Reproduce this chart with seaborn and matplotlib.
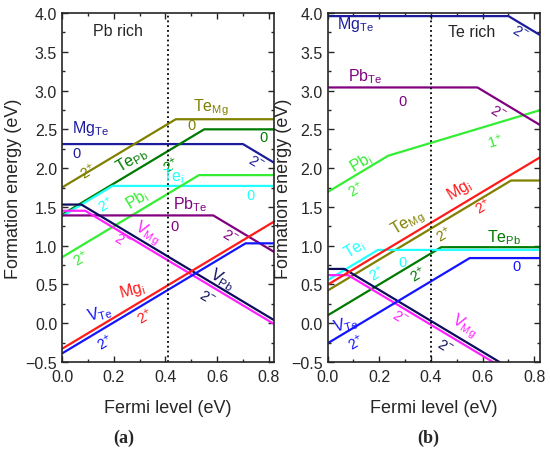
import pandas as pd
import matplotlib.pyplot as plt
import seaborn as sns
from matplotlib.ticker import MultipleLocator

# Energie di formazione: punti di rottura (livello di Fermi, energia) per ogni difetto
# Pannello (a): Pb rich
a_MgTe_x = [0.0, 0.70, 0.82]
a_MgTe_y = [2.31, 2.31, 2.07]
a_TeMg_x = [0.0, 0.44, 0.82]
a_TeMg_y = [1.75, 2.63, 2.63]
a_TePb_x = [0.0, 0.55, 0.82]
a_TePb_y = [1.40, 2.50, 2.50]
a_Tei_x = [0.0, 0.195, 0.82]
a_Tei_y = [1.38, 1.77, 1.77]
a_Pbi_x = [0.0, 0.53, 0.82]
a_Pbi_y = [0.85, 1.91, 1.91]
a_PbTe_x = [0.0, 0.585, 0.82]
a_PbTe_y = [1.39, 1.39, 0.92]
a_VPb_x = [0.0, 0.075, 0.82]
a_VPb_y = [1.53, 1.53, 0.04]
a_VMg_x = [0.0, 0.09, 0.82]
a_VMg_y = [1.45, 1.45, -0.01]
a_Mgi_x = [0.0, 0.82]
a_Mgi_y = [-0.33, 1.31]
a_VTe_x = [0.0, 0.71, 0.82]
a_VTe_y = [-0.39, 1.03, 1.03]

# Pannello (b): Te rich
b_MgTe_x = [0.0, 0.70, 0.82]
b_MgTe_y = [3.96, 3.96, 3.72]
b_PbTe_x = [0.0, 0.58, 0.82]
b_PbTe_y = [3.04, 3.04, 2.56]
b_Pbi_x = [0.0, 0.235, 0.82]
b_Pbi_y = [1.69, 2.16, 2.745]
b_Mgi_x = [0.0, 0.82]
b_Mgi_y = [0.495, 2.135]
b_TeMg_x = [0.0, 0.71, 0.82]
b_TeMg_y = [0.42, 1.84, 1.84]
b_Tei_x = [0.0, 0.195, 0.82]
b_Tei_y = [0.555, 0.945, 0.945]
b_TePb_x = [0.0, 0.44, 0.82]
b_TePb_y = [0.10, 0.98, 0.98]
b_VTe_x = [0.0, 0.55, 0.82]
b_VTe_y = [-0.26, 0.84, 0.84]
b_VPb_x = [0.0, 0.065, 0.82]
b_VPb_y = [0.70, 0.70, -0.81]
b_VMg_x = [0.0, 0.08, 0.82]
b_VMg_y = [0.62, 0.62, -0.86]

# Livello di Fermi di equilibrio (linea tratteggiata)
a_fermi = 0.41
b_fermi = 0.40

colors = {
    'MgTe': '#1c1c9c', 'TeMg': '#808000', 'TePb': '#007a00', 'Tei': '#22ffff',
    'Pbi': '#33ee33', 'PbTe': '#800080', 'VPb': '#0d0d5e', 'VMg': '#ff22ff',
    'Mgi': '#ff1a1a', 'VTe': '#1414ff',
}

order = ['MgTe', 'TeMg', 'TePb', 'Tei', 'Pbi', 'PbTe', 'VMg', 'VPb', 'Mgi', 'VTe']


def build_frame(prefix):
    rows = []
    for name in order:
        xs = globals()[f'{prefix}_{name}_x']
        ys = globals()[f'{prefix}_{name}_y']
        for x, y in zip(xs, ys):
            rows.append({'defect': name, 'fermi': x, 'energy': y})
    return pd.DataFrame(rows)


# Etichette: (testo, x, y, colore, rotazione, dimensione, allineamento)
a_labels = [
    (r'Mg$_{\rm Te}$', 0.04, 2.53, 'MgTe', 0, 11.5, 'left'),
    ('0', 0.055, 2.20, 'MgTe', 0, 10.5, 'center'),
    (r'2$^{-}$', 0.75, 2.08, 'MgTe', -31, 10.5, 'center'),
    (r'Te$_{\rm Mg}$', 0.505, 2.79, 'TeMg', 0, 11.5, 'left'),
    ('0', 0.50, 2.55, 'TeMg', 0, 10.5, 'center'),
    (r'2$^{+}$', 0.10, 1.97, 'TeMg', 31, 10.5, 'center'),
    (r'Te$_{\rm Pb}$', 0.27, 2.12, 'TePb', 31, 11.5, 'center'),
    (r'2$^{+}$', 0.42, 2.05, 'TePb', 31, 10.5, 'center'),
    ('0', 0.78, 2.40, 'TePb', 0, 10.5, 'center'),
    (r'Te$_{\rm i}$', 0.43, 1.90, 'Tei', 0, 11.5, 'center'),
    ('0', 0.73, 1.65, 'Tei', 0, 10.5, 'center'),
    (r'2$^{+}$', 0.17, 1.54, 'Tei', 31, 10.5, 'center'),
    (r'Pb$_{\rm i}$', 0.29, 1.60, 'Pbi', 31, 11.5, 'center'),
    (r'2$^{+}$', 0.075, 0.85, 'Pbi', 31, 10.5, 'center'),
    (r'Pb$_{\rm Te}$', 0.43, 1.54, 'PbTe', 0, 11.5, 'left'),
    ('0', 0.435, 1.26, 'PbTe', 0, 10.5, 'center'),
    (r'2$^{-}$', 0.65, 1.13, 'PbTe', -31, 10.5, 'center'),
    (r'V$_{\rm Mg}$', 0.33, 1.17, 'VMg', -31, 11.5, 'center'),
    (r'2$^{-}$', 0.23, 1.07, 'VMg', -31, 10.5, 'center'),
    (r'V$_{\rm Pb}$', 0.62, 0.57, 'VPb', -31, 11.5, 'center'),
    (r'2$^{-}$', 0.56, 0.34, 'VPb', -31, 10.5, 'center'),
    (r'Mg$_{\rm i}$', 0.27, 0.44, 'Mgi', 15, 11.5, 'center'),
    (r'2$^{+}$', 0.32, 0.10, 'Mgi', 31, 10.5, 'center'),
    (r'V$_{\rm Te}$', 0.145, 0.14, 'VTe', 15, 11.5, 'center'),
    (r'2$^{+}$', 0.165, -0.24, 'VTe', 31, 10.5, 'center'),
]

b_labels = [
    (r'Mg$_{\rm Te}$', 0.036, 3.86, 'MgTe', 0, 11.5, 'left'),
    (r'2$^{-}$', 0.745, 3.75, 'MgTe', -31, 10.5, 'center'),
    (r'Pb$_{\rm Te}$', 0.08, 3.19, 'PbTe', 0, 11.5, 'left'),
    ('0', 0.29, 2.87, 'PbTe', 0, 10.5, 'center'),
    (r'2$^{-}$', 0.66, 2.72, 'PbTe', -31, 10.5, 'center'),
    (r'Pb$_{\rm i}$', 0.13, 2.08, 'Pbi', 31, 11.5, 'center'),
    (r'2$^{+}$', 0.11, 1.73, 'Pbi', 31, 10.5, 'center'),
    (r'1$^{+}$', 0.65, 2.35, 'Pbi', 17, 10.5, 'center'),
    (r'Mg$_{\rm i}$', 0.51, 1.73, 'Mgi', 31, 11.5, 'center'),
    (r'2$^{+}$', 0.60, 1.52, 'Mgi', 31, 10.5, 'center'),
    (r'Te$_{\rm Mg}$', 0.31, 1.30, 'TeMg', 31, 11.5, 'center'),
    (r'2$^{+}$', 0.45, 1.15, 'TeMg', 31, 10.5, 'center'),
    (r'Te$_{\rm Pb}$', 0.616, 1.11, 'TePb', 0, 11.5, 'left'),
    (r'Te$_{\rm i}$', 0.107, 0.97, 'Tei', 31, 11.5, 'center'),
    (r'2$^{+}$', 0.19, 0.65, 'Tei', 31, 10.5, 'center'),
    ('0', 0.29, 0.79, 'Tei', 0, 10.5, 'center'),
    (r'2$^{+}$', 0.35, 0.64, 'TePb', 31, 10.5, 'center'),
    ('0', 0.73, 0.74, 'VTe', 0, 10.5, 'center'),
    (r'V$_{\rm Te}$', 0.07, -0.01, 'VTe', 15, 11.5, 'center'),
    (r'2$^{+}$', 0.11, -0.24, 'VTe', 31, 10.5, 'center'),
    (r'2$^{-}$', 0.28, 0.08, 'VMg', -31, 10.5, 'center'),
    (r'V$_{\rm Mg}$', 0.53, -0.03, 'VMg', -31, 11.5, 'center'),
    (r'2$^{-}$', 0.455, -0.29, 'VPb', -31, 10.5, 'center'),
]

sns.set_style('ticks')
plt.rcParams['font.family'] = ['Liberation Sans', 'DejaVu Sans']
plt.rcParams['mathtext.fontset'] = 'custom'
plt.rcParams['mathtext.rm'] = 'Liberation Sans'
plt.rcParams['mathtext.it'] = 'Liberation Sans:italic'

fig = plt.figure(figsize=(5.5, 4.52), dpi=100)
ax_a = fig.add_axes([62 / 550, 1 - 363 / 452, 212 / 550, 349 / 452])
ax_b = fig.add_axes([327.5 / 550, 1 - 363 / 452, 212 / 550, 349 / 452])

panels = [
    (ax_a, 'a', a_labels, a_fermi, 'Pb rich', 0.12, 3.77, -0.189, 124 / 550, '(a)'),
    (ax_b, 'b', b_labels, b_fermi, 'Te rich', 0.467, 3.76, -0.167, 428 / 550, '(b)'),
]

for ax, prefix, labels, fermi, title, tx, ty, ylx, px, tag in panels:
    df = build_frame(prefix)
    sns.lineplot(data=df, x='fermi', y='energy', hue='defect', palette=colors,
                 estimator=None, sort=False, linewidth=1.6, legend=False, ax=ax)
    ax.axvline(fermi, color='black', linestyle=':', linewidth=1.3)

    for text, x, y, key, rot, size, ha in labels:
        ax.text(x, y, text, color=colors[key], rotation=rot, fontsize=size,
                ha=ha, va='center', rotation_mode='anchor')
    ax.text(tx, ty, title, fontsize=11.5, ha='left', va='center')

    ax.set_xlim(0, 0.82)
    ax.set_ylim(-0.5, 4.0)
    ax.xaxis.set_major_locator(MultipleLocator(0.2))
    ax.xaxis.set_minor_locator(MultipleLocator(0.1))
    ax.yaxis.set_major_locator(MultipleLocator(0.5))
    ax.yaxis.set_minor_locator(MultipleLocator(0.25))
    ax.tick_params(which='both', direction='in', top=True, right=True,
                   labelsize=11.5, width=1.0)
    ax.tick_params(which='major', length=4.5)
    ax.tick_params(which='minor', length=2.5)
    ax.tick_params(axis='x', pad=5)
    ax.set_xticklabels([f'{v:.1f}' for v in ax.get_xticks()])
    ax.set_yticklabels([f'{v:.1f}'.replace('-', '\u2212') for v in ax.get_yticks()])
    for s in ax.spines.values():
        s.set_linewidth(1.2)
    ax.set_xlabel('Fermi level (eV)', fontsize=13)
    ax.set_ylabel('Formation energy (eV)', fontsize=13)
    ax.xaxis.set_label_coords(0.5, -0.105)
    ax.yaxis.set_label_coords(ylx, 0.5)

    fig.text(px, 1 - 438 / 452, tag, fontsize=13, ha='center', va='center',
             family=['Liberation Serif', 'DejaVu Serif'], fontweight='bold')

fig.savefig('out.png', dpi=100)
